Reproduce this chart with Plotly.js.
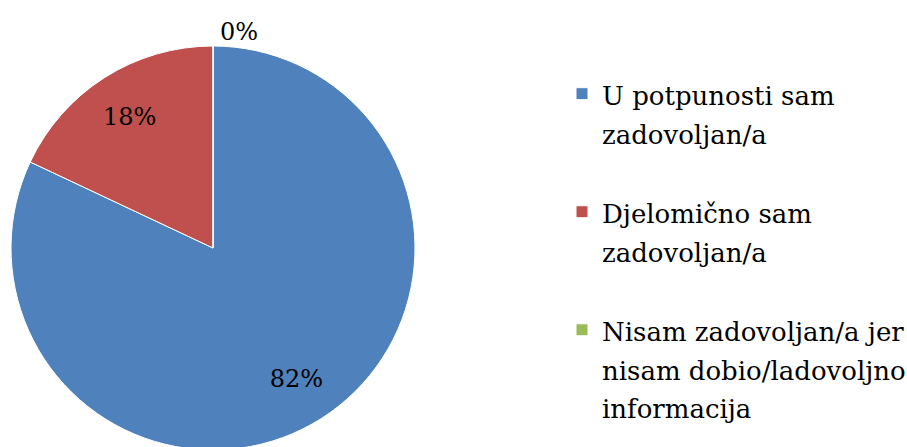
<!DOCTYPE html>
<html><head><meta charset="utf-8">
<script src="https://cdn.plot.ly/plotly-3.0.1.min.js"></script>
<style>html,body{margin:0;padding:0;overflow:hidden;background:#fff}</style>
</head><body><div id="chart" style="width:907px;height:460px"></div>
<script>
const categories = [
  ["U potpunosti sam", "zadovoljan/a"],
  ["Djelomično sam", "zadovoljan/a"],
  ["Nisam zadovoljan/a jer", "nisam dobio/ladovoljno", "informacija"]
];
const values = [82, 18, 0];
const labelsText = ["82%", "18%", "0%"];
const colors = ["#4F81BD", "#C0504D", "#9BBB59"];

const SERIF = "DejaVu Serif";
// legend labels: lines built from categories, padded to 3 lines each
const legendLabels = categories.map(lines => {
  const padded = lines.slice();
  while (padded.length < 3) padded.push(" ");
  return padded.map(l => '<span style="font-size:26px">' + l + '</span>').join("<br>");
});

const dom = {x: [11/907, 415/907], y: [1-450/460, 1-46/460]};
const slices = {
  type: "pie",
  labels: legendLabels,
  values: values,
  textinfo: "none",
  sort: false,
  direction: "clockwise",
  rotation: 0,
  marker: {colors: colors, line: {color: "#ffffff", width: 1}},
  domain: dom,
  hoverinfo: "none"
};
const textRing = {
  type: "pie",
  labels: legendLabels,
  values: values,
  text: labelsText,
  textinfo: "text",
  textposition: ["inside", "inside", "outside"],
  insidetextorientation: "horizontal",
  hole: 0.54,
  sort: false,
  direction: "clockwise",
  rotation: 0,
  showlegend: false,
  marker: {colors: ["rgba(0,0,0,0)", "rgba(0,0,0,0)", "rgba(0,0,0,0)"], line: {width: 0}},
  textfont: {family: SERIF, size: 24, color: "#000"},
  domain: dom,
  hoverinfo: "none"
};
Plotly.newPlot("chart", [slices, textRing], {
  width: 907, height: 460,
  margin: {l: 0, r: 0, t: 0, b: 0, autoexpand: false},
  paper_bgcolor: "#fff",
  font: {family: SERIF, size: 29.5, color: "#000"},
  showlegend: true,
  legend: {x: 562/907, y: 1-68/460, xanchor: "left", yanchor: "top",
    font: {family: SERIF, size: 29.5, color: "#000"},
    valign: "top", traceorder: "normal"},
}, {staticPlot: true});
</script></body></html>
